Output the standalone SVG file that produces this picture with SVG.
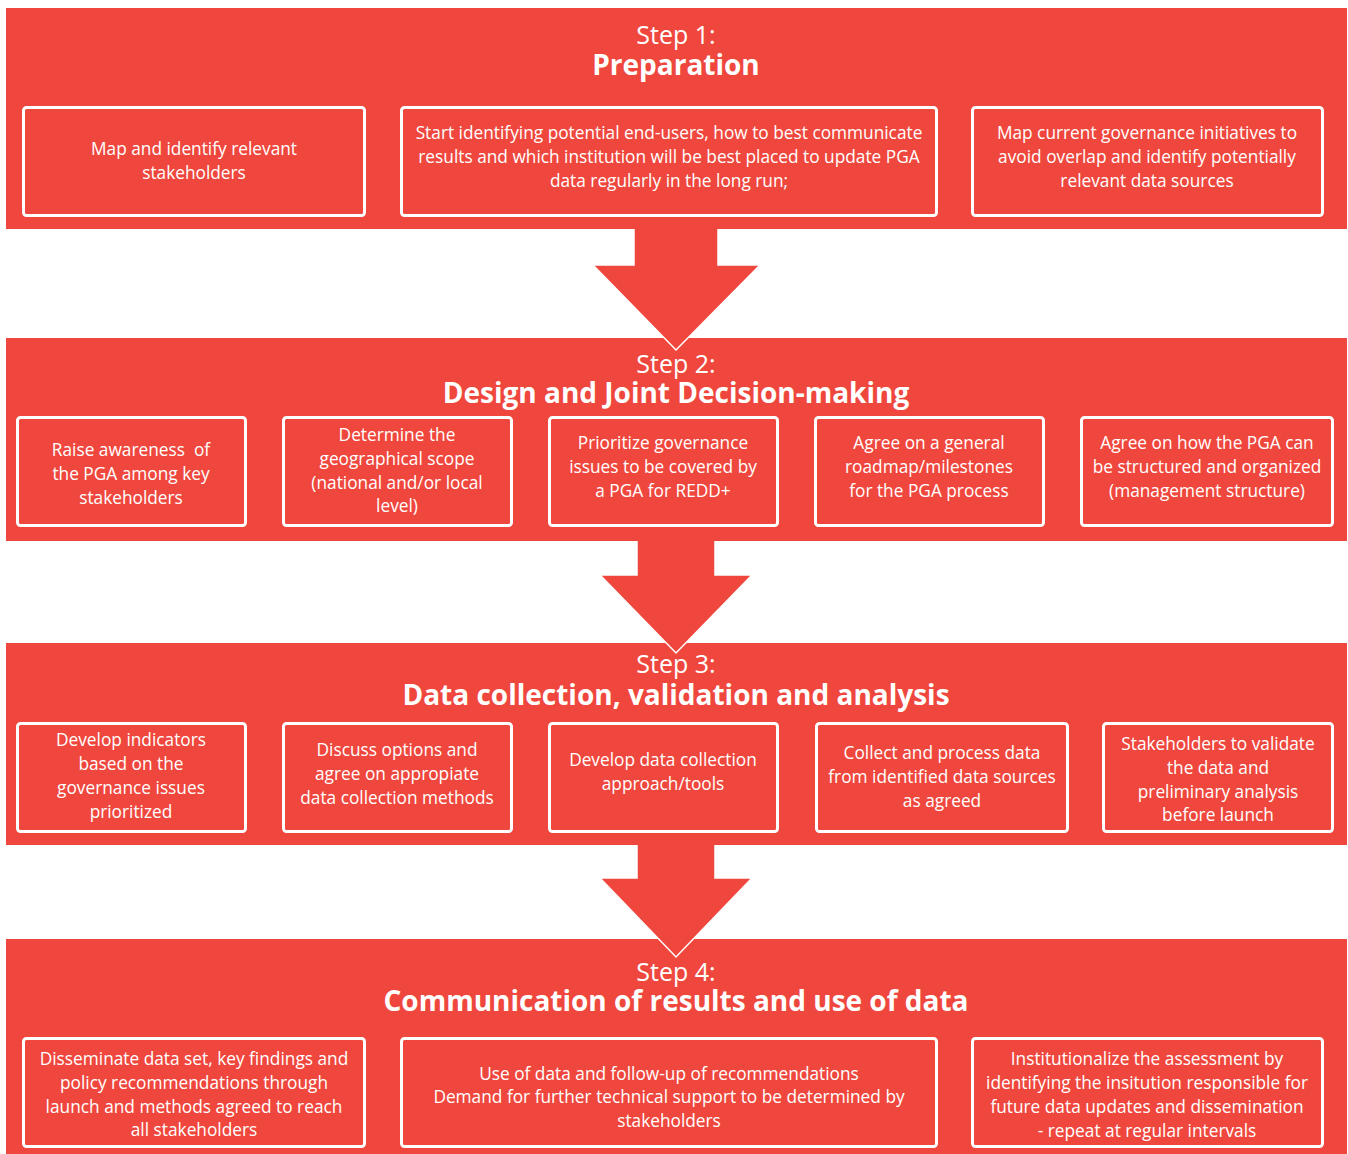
<svg xmlns="http://www.w3.org/2000/svg" width="1348" height="1154" viewBox="0 0 1348 1154">
<style>
.panel{fill:#EF473D;}
.box{fill:#EF473D;stroke:#FFFFFF;stroke-width:3;}
.arrow{fill:#EF473D;stroke:#FFFFFF;stroke-width:1.5;stroke-linejoin:miter;}
text{fill:#FFFFFF;font-family:"Open Sans","Noto Sans",sans-serif;text-anchor:middle;}
.t{font-size:17.3px;}
.step{font-size:25px;}
.title{font-size:28px;font-weight:bold;}
</style>
<rect width="1348" height="1154" fill="#FFFFFF"/>

<!-- panels (drawn bottom-up so each arrow tip lies over the next panel) -->
<rect id="panel4" class="panel" x="6" y="939" width="1341" height="215"/>
<g id="connectors">
<polygon id="arrow3" class="arrow" points="637,835 715,835 715,878 752,878 676,957 600,878 637,878"/>
</g>
<rect id="panel3" class="panel" x="6" y="643" width="1341" height="202"/>
<g id="connectors2">
<polygon id="arrow2" class="arrow" points="637,530 715,530 715,575 752,575 676,653 600,575 637,575"/>
</g>
<rect id="panel2" class="panel" x="6" y="338" width="1341" height="203"/>
<g id="connectors1">
<polygon id="arrow1" class="arrow" points="634,220 718,220 718,265 760,265 676,350 593,265 634,265"/>
</g>
<rect id="panel1" class="panel" x="6" y="8" width="1341" height="221"/>

<!-- Step headers -->
<g id="step1-header"><text class="step" x="676" y="44">Step 1:</text><text class="title" x="676" y="75">Preparation</text></g>
<g id="step2-header"><text class="step" x="676" y="373">Step 2:</text><text class="title" x="676" y="403">Design and Joint Decision-making</text></g>
<g id="step3-header"><text class="step" x="676" y="673">Step 3:</text><text class="title" x="676" y="705">Data collection, validation and analysis</text></g>
<g id="step4-header"><text class="step" x="676" y="981">Step 4:</text><text class="title" x="676" y="1011">Communication of results and use of data</text></g>

<!-- Step 1 boxes -->
<g id="s1a"><rect class="box" x="23.5" y="107.5" width="341" height="108" rx="3"/><text class="t" x="194" y="155">Map and identify relevant</text><text class="t" x="194" y="179">stakeholders</text></g>
<g id="s1b"><rect class="box" x="401.5" y="107.5" width="535" height="108" rx="3"/><text class="t" x="669" y="139">Start identifying potential end-users, how to best communicate</text><text class="t" x="669" y="163">results and which institution will be best placed to update PGA</text><text class="t" x="669" y="187">data regularly in the long run;</text></g>
<g id="s1c"><rect class="box" x="972.5" y="107.5" width="350" height="108" rx="3"/><text class="t" x="1147" y="139">Map current governance initiatives to</text><text class="t" x="1147" y="163">avoid overlap and identify potentially</text><text class="t" x="1147" y="187">relevant data sources</text></g>

<!-- Step 2 boxes -->
<g id="s2a"><rect class="box" x="17.5" y="417.5" width="228" height="108" rx="3"/><text class="t" x="131" y="456">Raise awareness&#160; of</text><text class="t" x="131" y="480">the PGA among key</text><text class="t" x="131" y="504">stakeholders</text></g>
<g id="s2b"><rect class="box" x="283.5" y="417.5" width="228" height="108" rx="3"/><text class="t" x="397" y="441">Determine the</text><text class="t" x="397" y="465">geographical scope</text><text class="t" x="397" y="489">(national and/or local</text><text class="t" x="397" y="512">level)</text></g>
<g id="s2c"><rect class="box" x="549.5" y="417.5" width="228" height="108" rx="3"/><text class="t" x="663" y="449">Prioritize governance</text><text class="t" x="663" y="473">issues to be covered by</text><text class="t" x="663" y="497">a PGA for REDD+</text></g>
<g id="s2d"><rect class="box" x="815.5" y="417.5" width="228" height="108" rx="3"/><text class="t" x="929" y="449">Agree on a general</text><text class="t" x="929" y="473">roadmap/milestones</text><text class="t" x="929" y="497">for the PGA process</text></g>
<g id="s2e"><rect class="box" x="1081.5" y="417.5" width="251" height="108" rx="3"/><text class="t" x="1207" y="449">Agree on how the PGA can</text><text class="t" x="1207" y="473">be structured and organized</text><text class="t" x="1207" y="497">(management structure)</text></g>

<!-- Step 3 boxes -->
<g id="s3a"><rect class="box" x="17.5" y="723.5" width="228" height="108" rx="3"/><text class="t" x="131" y="746">Develop indicators</text><text class="t" x="131" y="770">based on the</text><text class="t" x="131" y="794">governance issues</text><text class="t" x="131" y="818">prioritized</text></g>
<g id="s3b"><rect class="box" x="283.5" y="723.5" width="228" height="108" rx="3"/><text class="t" x="397" y="756">Discuss options and</text><text class="t" x="397" y="780">agree on appropiate</text><text class="t" x="397" y="804">data collection methods</text></g>
<g id="s3c"><rect class="box" x="549.5" y="723.5" width="228" height="108" rx="3"/><text class="t" x="663" y="766">Develop data collection</text><text class="t" x="663" y="790">approach/tools</text></g>
<g id="s3d"><rect class="box" x="816.5" y="723.5" width="251" height="108" rx="3"/><text class="t" x="942" y="759">Collect and process data</text><text class="t" x="942" y="783">from identified data sources</text><text class="t" x="942" y="807">as agreed</text></g>
<g id="s3e"><rect class="box" x="1103.5" y="723.5" width="229" height="108" rx="3"/><text class="t" x="1218" y="750">Stakeholders to validate</text><text class="t" x="1218" y="774">the data and</text><text class="t" x="1218" y="798">preliminary analysis</text><text class="t" x="1218" y="821">before launch</text></g>

<!-- Step 4 boxes -->
<g id="s4a"><rect class="box" x="23.5" y="1038.5" width="341" height="108" rx="3"/><text class="t" x="194" y="1065">Disseminate data set, key findings and</text><text class="t" x="194" y="1089">policy recommendations through</text><text class="t" x="194" y="1113">launch and methods agreed to reach</text><text class="t" x="194" y="1136">all stakeholders</text></g>
<g id="s4b"><rect class="box" x="401.5" y="1038.5" width="535" height="108" rx="3"/><text class="t" x="669" y="1080">Use of data and follow-up of recommendations</text><text class="t" x="669" y="1103">Demand for further technical support to be determined by</text><text class="t" x="669" y="1127">stakeholders</text></g>
<g id="s4c"><rect class="box" x="972.5" y="1038.5" width="350" height="108" rx="3"/><text class="t" x="1147" y="1065">Institutionalize the assessment by</text><text class="t" x="1147" y="1089">identifying the insitution responsible for</text><text class="t" x="1147" y="1113">future data updates and dissemination</text><text class="t" x="1147" y="1137">- repeat at regular intervals</text></g>
</svg>
